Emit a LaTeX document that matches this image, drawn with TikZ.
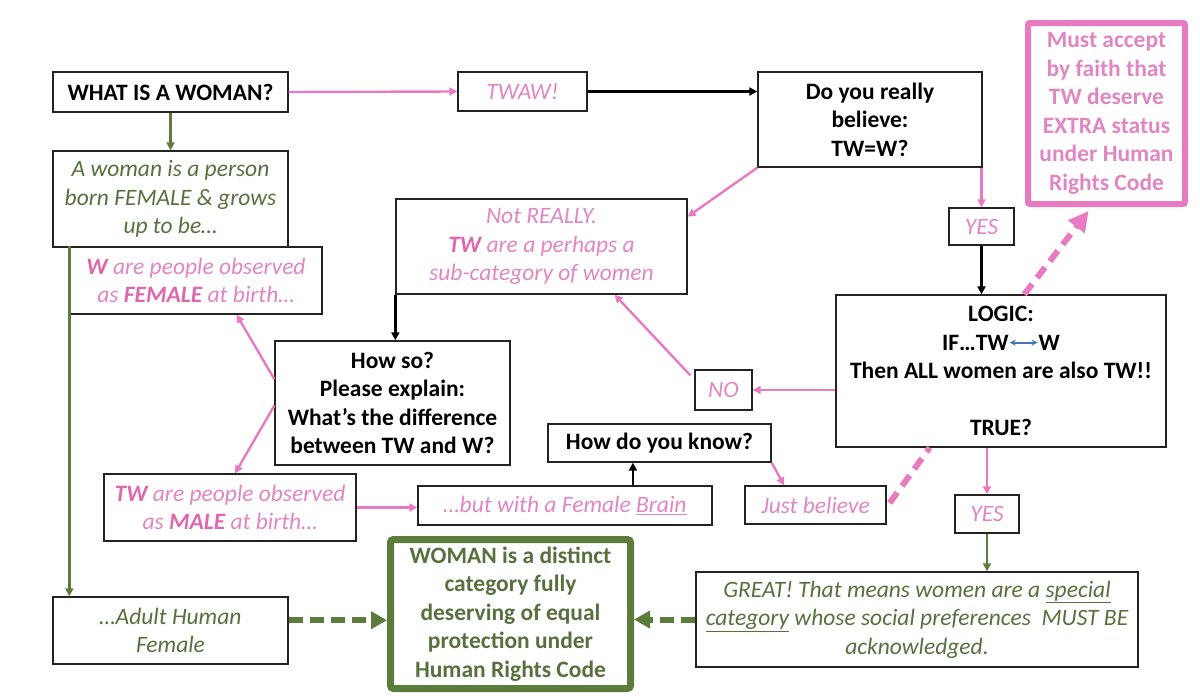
\documentclass[tikz,border=0pt]{standalone}
\usepackage{fontspec}
\setmainfont{Carlito}
\usetikzlibrary{arrows.meta,calc}
\definecolor{pinkL}{RGB}{232,122,194}
\definecolor{pinkT}{RGB}{224,134,194}
\definecolor{pinkS}{RGB}{222,104,174}
\definecolor{greenL}{RGB}{92,124,60}
\definecolor{greenT}{RGB}{88,112,62}
\definecolor{blueA}{RGB}{70,114,196}
\definecolor{boxB}{RGB}{35,35,35}
\newcommand{\fsz}{\fontsize{23.5}{28.5}\selectfont}
\begin{document}
\begin{tikzpicture}[x=1pt,y=-1pt,
 base/.style={draw=boxB,line width=1.3pt,rectangle,align=center,inner sep=0pt},
 blk/.style={base,font=\fsz\bfseries,text=black},
 pnk/.style={base,font=\fsz\itshape,text=pinkT},
 grn/.style={base,font=\fsz\itshape,text=greenT},
 pa/.style={draw=pinkL,line width=2.4pt,-{Triangle[length=8pt,width=8pt]}},
 ba/.style={draw=black,line width=2.4pt,-{Triangle[length=8pt,width=8pt]}},
 ga/.style={draw=greenL,line width=2.4pt,-{Triangle[length=8pt,width=8pt]}},
 pdash/.style={draw=pinkL,line width=6pt,dash pattern=on 13pt off 8pt},
 gdash/.style={draw=greenL,line width=6pt,dash pattern=on 14pt off 7pt,-{Triangle[length=16pt,width=17pt]}}
]
\useasboundingbox (0,0) rectangle (1200,696);

% boxes
\node[blk,minimum width=235pt,minimum height=40pt] (what) at (170.5,92) {WHAT IS A WOMAN?};
\node[grn,minimum width=235pt,minimum height=96pt] (awoman) at (170.5,199) {A woman is a person\\born FEMALE \& grows\\up to be…};
\node[pnk,minimum width=252pt,minimum height=67pt] (wfem) at (196,280.5) {\textbf{\color{pinkS}W} are people observed\\as \textbf{\color{pinkS}FEMALE} at birth…};
\node[pnk,minimum width=129pt,minimum height=39pt] (twaw) at (522.5,91.5) {TWAW!};
\node[blk,minimum width=224pt,minimum height=95pt] (believe) at (870,119.5) {Do you really\\believe:\\TW=W?};
\node[draw=pinkL,line width=6pt,rounded corners=2pt,align=center,inner sep=0pt,
      font=\fsz\bfseries,text=pinkT,
      minimum width=157pt,minimum height=181pt] (faith) at (1106.5,113.5)
      {Must accept\\by faith that\\TW deserve\\EXTRA status\\under Human\\Rights Code};
\node[pnk,minimum width=65pt,minimum height=37pt] (yes1) at (981.5,226.5) {YES};
\node[pnk,minimum width=291pt,minimum height=95pt] (notreally) at (541.5,246.5) {Not REALLY.\\\textbf{\color{pinkS}TW} are a perhaps a\\sub-category of women};
\node[blk,minimum width=330pt,minimum height=152pt] (logic) at (1001,371)
 {LOGIC:\\IF…TW\tikz[baseline=-7.5pt]{\draw[blueA,line width=2pt,{Stealth[length=6pt,width=6pt]}-{Stealth[length=6pt,width=6pt]}] (0pt,0pt)--(28pt,0pt);}W\\Then ALL women are also TW!!\\[28.5pt]TRUE?};
\node[blk,minimum width=235pt,minimum height=124pt] (howso) at (392.5,403) {How so?\\Please explain:\\What’s the difference\\between TW and W?};
\node[pnk,minimum width=57pt,minimum height=40pt] (no) at (723.5,390) {NO};
\node[blk,minimum width=223pt,minimum height=38pt] (howknow) at (659.5,443) {How do you know?};
\node[pnk,minimum width=252pt,minimum height=67pt] (twmale) at (230,507.5) {\textbf{\color{pinkS}TW} are people observed\\as \textbf{\color{pinkS}MALE} at birth…};
\node[pnk,minimum width=294pt,minimum height=39pt] (brain) at (565,505.5) {…but with a Female \underline{Brain}};
\node[pnk,minimum width=141pt,minimum height=38pt] (just) at (815.5,505) {Just believe};
\node[pnk,minimum width=64pt,minimum height=38pt] (yes2) at (987,514) {YES};
\node[draw=greenL,line width=7pt,rounded corners=3pt,align=center,inner sep=0pt,
      font=\fsz\bfseries,text=greenT,
      minimum width=240pt,minimum height=149pt] (womanbox) at (510.5,614)
      {WOMAN is a distinct\\category fully\\deserving of equal\\protection under\\Human Rights Code};
\node[grn,minimum width=235pt,minimum height=67pt] (adult) at (170.5,630.5) {…Adult Human\\Female};
\node[grn,minimum width=442pt,minimum height=95pt] (great) at (917,619.5)
 {GREAT! That means women are a \underline{special}\\\underline{category} whose social preferences\ \ MUST BE\\acknowledged.};

% connectors
\draw[pa] (what.east) -- (twaw.west);
\draw[ba] (twaw.east) -- (believe.west |- twaw.east);
\draw[ga] (what.south) -- (awoman.north);
\coordinate (lg1) at (wfem.north west);
\draw[ga] (lg1) -- (lg1 |- adult.north);
\draw[pa] (believe.south west) -- ($(notreally.north east)!0.19!(notreally.south east)$);
\draw[pa] (yes1.north |- believe.south) -- (yes1.north);
\draw[ba] (yes1.south) -- (yes1.south |- logic.north);
\draw[pdash,-{Triangle[length=20pt,width=20pt]}] ($(logic.north west)!0.57!(logic.north east)$) -- ($(faith.south west)!0.39!(faith.south east)+(0,4)$);
\draw[pa] (no.east -| logic.west) -- (no.east);
\draw[pa] ($(no.north west)+(-4,6)$) -- ($(notreally.south west)!0.75!(notreally.south east)$);
\draw[ba] (notreally.south west) -- (notreally.south west |- howso.north);
\draw[pa] ($(howso.north west)!0.31!(howso.south west)$) -- ($(wfem.south west)!0.66!(wfem.south east)$);
\draw[pa] ($(howso.north west)!0.52!(howso.south west)$) -- ($(twmale.north west)!0.52!(twmale.north east)$);
\draw[pa] (twmale.east) -- (twmale.east -| brain.west);
\coordinate (bk) at ($(brain.north west)!0.73!(brain.north east)$);
\draw[ba] (bk) -- (bk |- howknow.south);
\draw[pa] (howknow.south east) -- ($(just.north west)!0.28!(just.north east)$);
\draw[pdash] ($(just.east)+(3,-2)$) -- ($(logic.south west)!0.285!(logic.south east)$);
\draw[pa] (yes2.north |- logic.south) -- (yes2.north);
\draw[ga] (yes2.south) -- (yes2.south |- great.north);
\coordinate (ad) at ($(adult.north east)!0.35!(adult.south east)$);
\draw[gdash] (ad) -- (ad -| womanbox.west);
\draw[gdash] (great.west) -- (great.west -| womanbox.east);
\end{tikzpicture}
\end{document}
